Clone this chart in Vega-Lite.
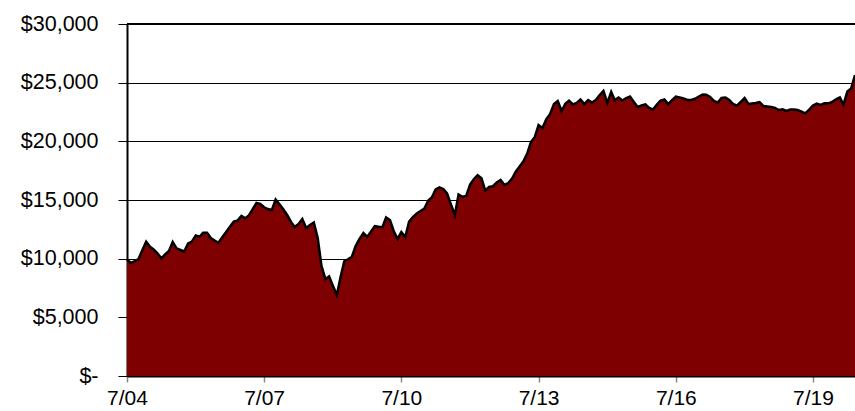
{
  "$schema": "https://vega.github.io/schema/vega-lite/v6.json",
  "width": 728,
  "height": 352,
  "autosize": {"type": "none"},
  "padding": {"left": 127, "top": 24, "right": 0, "bottom": 35},
  "background": "white",
  "config": {"view": {"stroke": null}, "font": "Liberation Sans"},
  "data": {"values": [
    {"date": "2004-07-01", "value": 9930}, {"date": "2004-08-01", "value": 9630}, {"date": "2004-09-01", "value": 9800},
    {"date": "2004-10-01", "value": 9970}, {"date": "2004-11-01", "value": 10740}, {"date": "2004-12-01", "value": 11450},
    {"date": "2005-01-01", "value": 11010}, {"date": "2005-02-01", "value": 10760}, {"date": "2005-03-01", "value": 10460},
    {"date": "2005-04-01", "value": 10030}, {"date": "2005-05-01", "value": 10360}, {"date": "2005-06-01", "value": 10650},
    {"date": "2005-07-01", "value": 11420}, {"date": "2005-08-01", "value": 10880}, {"date": "2005-09-01", "value": 10740},
    {"date": "2005-10-01", "value": 10610}, {"date": "2005-11-01", "value": 11290}, {"date": "2005-12-01", "value": 11450},
    {"date": "2006-01-01", "value": 11980}, {"date": "2006-02-01", "value": 11870}, {"date": "2006-03-01", "value": 12210},
    {"date": "2006-04-01", "value": 12210}, {"date": "2006-05-01", "value": 11760}, {"date": "2006-06-01", "value": 11550},
    {"date": "2006-07-01", "value": 11360}, {"date": "2006-08-01", "value": 11830}, {"date": "2006-09-01", "value": 12280},
    {"date": "2006-10-01", "value": 12730}, {"date": "2006-11-01", "value": 13160}, {"date": "2006-12-01", "value": 13250},
    {"date": "2007-01-01", "value": 13650}, {"date": "2007-02-01", "value": 13440}, {"date": "2007-03-01", "value": 13680},
    {"date": "2007-04-01", "value": 14230}, {"date": "2007-05-01", "value": 14740}, {"date": "2007-06-01", "value": 14660},
    {"date": "2007-07-01", "value": 14380}, {"date": "2007-08-01", "value": 14230}, {"date": "2007-09-01", "value": 14150},
    {"date": "2007-10-01", "value": 15040}, {"date": "2007-11-01", "value": 14630}, {"date": "2007-12-01", "value": 14210},
    {"date": "2008-01-01", "value": 13720}, {"date": "2008-02-01", "value": 13130}, {"date": "2008-03-01", "value": 12700},
    {"date": "2008-04-01", "value": 12960}, {"date": "2008-05-01", "value": 13380}, {"date": "2008-06-01", "value": 12610},
    {"date": "2008-07-01", "value": 12870}, {"date": "2008-08-01", "value": 13080}, {"date": "2008-09-01", "value": 11760},
    {"date": "2008-10-01", "value": 9380}, {"date": "2008-11-01", "value": 8270}, {"date": "2008-12-01", "value": 8480},
    {"date": "2009-01-01", "value": 7670}, {"date": "2009-02-01", "value": 6900}, {"date": "2009-03-01", "value": 8350},
    {"date": "2009-04-01", "value": 9780}, {"date": "2009-05-01", "value": 9950}, {"date": "2009-06-01", "value": 10170},
    {"date": "2009-07-01", "value": 11080}, {"date": "2009-08-01", "value": 11680}, {"date": "2009-09-01", "value": 12190},
    {"date": "2009-10-01", "value": 11850}, {"date": "2009-11-01", "value": 12320}, {"date": "2009-12-01", "value": 12780},
    {"date": "2010-01-01", "value": 12730}, {"date": "2010-02-01", "value": 12700}, {"date": "2010-03-01", "value": 13510},
    {"date": "2010-04-01", "value": 13300}, {"date": "2010-05-01", "value": 12360}, {"date": "2010-06-01", "value": 11680},
    {"date": "2010-07-01", "value": 12270}, {"date": "2010-08-01", "value": 11850}, {"date": "2010-09-01", "value": 13170},
    {"date": "2010-10-01", "value": 13550}, {"date": "2010-11-01", "value": 13850}, {"date": "2010-12-01", "value": 14060},
    {"date": "2011-01-01", "value": 14280}, {"date": "2011-02-01", "value": 14960}, {"date": "2011-03-01", "value": 15210},
    {"date": "2011-04-01", "value": 15910}, {"date": "2011-05-01", "value": 16080}, {"date": "2011-06-01", "value": 15940},
    {"date": "2011-07-01", "value": 15570}, {"date": "2011-08-01", "value": 14620}, {"date": "2011-09-01", "value": 13720},
    {"date": "2011-10-01", "value": 15470}, {"date": "2011-11-01", "value": 15280}, {"date": "2011-12-01", "value": 15340},
    {"date": "2012-01-01", "value": 16320}, {"date": "2012-02-01", "value": 16790}, {"date": "2012-03-01", "value": 17110},
    {"date": "2012-04-01", "value": 16850}, {"date": "2012-05-01", "value": 15810}, {"date": "2012-06-01", "value": 16110},
    {"date": "2012-07-01", "value": 16170}, {"date": "2012-08-01", "value": 16490}, {"date": "2012-09-01", "value": 16710},
    {"date": "2012-10-01", "value": 16280}, {"date": "2012-11-01", "value": 16450}, {"date": "2012-12-01", "value": 16830},
    {"date": "2013-01-01", "value": 17430}, {"date": "2013-02-01", "value": 17870}, {"date": "2013-03-01", "value": 18280},
    {"date": "2013-04-01", "value": 18960}, {"date": "2013-05-01", "value": 19940}, {"date": "2013-06-01", "value": 20370},
    {"date": "2013-07-01", "value": 21390}, {"date": "2013-08-01", "value": 21140}, {"date": "2013-09-01", "value": 21900},
    {"date": "2013-10-01", "value": 22330}, {"date": "2013-11-01", "value": 23180}, {"date": "2013-12-01", "value": 23440},
    {"date": "2014-01-01", "value": 22590}, {"date": "2014-02-01", "value": 23220}, {"date": "2014-03-01", "value": 23460},
    {"date": "2014-04-01", "value": 23140}, {"date": "2014-05-01", "value": 23270}, {"date": "2014-06-01", "value": 23570},
    {"date": "2014-07-01", "value": 23180}, {"date": "2014-08-01", "value": 23520}, {"date": "2014-09-01", "value": 23310},
    {"date": "2014-10-01", "value": 23520}, {"date": "2014-11-01", "value": 23950}, {"date": "2014-12-01", "value": 24290},
    {"date": "2015-01-01", "value": 23270}, {"date": "2015-02-01", "value": 24210}, {"date": "2015-03-01", "value": 23520},
    {"date": "2015-04-01", "value": 23740}, {"date": "2015-05-01", "value": 23480}, {"date": "2015-06-01", "value": 23690},
    {"date": "2015-07-01", "value": 23820}, {"date": "2015-08-01", "value": 23350}, {"date": "2015-09-01", "value": 22930},
    {"date": "2015-10-01", "value": 23050}, {"date": "2015-11-01", "value": 23140}, {"date": "2015-12-01", "value": 22840},
    {"date": "2016-01-01", "value": 22710}, {"date": "2016-02-01", "value": 23140}, {"date": "2016-03-01", "value": 23480},
    {"date": "2016-04-01", "value": 23570}, {"date": "2016-05-01", "value": 23180}, {"date": "2016-06-01", "value": 23520},
    {"date": "2016-07-01", "value": 23820}, {"date": "2016-08-01", "value": 23740}, {"date": "2016-09-01", "value": 23650},
    {"date": "2016-10-01", "value": 23520}, {"date": "2016-11-01", "value": 23520}, {"date": "2016-12-01", "value": 23630},
    {"date": "2017-01-01", "value": 23820}, {"date": "2017-02-01", "value": 23990}, {"date": "2017-03-01", "value": 23970},
    {"date": "2017-04-01", "value": 23780}, {"date": "2017-05-01", "value": 23440}, {"date": "2017-06-01", "value": 23310},
    {"date": "2017-07-01", "value": 23690}, {"date": "2017-08-01", "value": 23740}, {"date": "2017-09-01", "value": 23520},
    {"date": "2017-10-01", "value": 23180}, {"date": "2017-11-01", "value": 23050}, {"date": "2017-12-01", "value": 23350},
    {"date": "2018-01-01", "value": 23690}, {"date": "2018-02-01", "value": 23180}, {"date": "2018-03-01", "value": 23220},
    {"date": "2018-04-01", "value": 23270}, {"date": "2018-05-01", "value": 23350}, {"date": "2018-06-01", "value": 23010},
    {"date": "2018-07-01", "value": 22970}, {"date": "2018-08-01", "value": 22930}, {"date": "2018-09-01", "value": 22840},
    {"date": "2018-10-01", "value": 22670}, {"date": "2018-11-01", "value": 22730}, {"date": "2018-12-01", "value": 22590},
    {"date": "2019-01-01", "value": 22710}, {"date": "2019-02-01", "value": 22710}, {"date": "2019-03-01", "value": 22670},
    {"date": "2019-04-01", "value": 22540}, {"date": "2019-05-01", "value": 22390}, {"date": "2019-06-01", "value": 22710},
    {"date": "2019-07-01", "value": 23050}, {"date": "2019-08-01", "value": 23220}, {"date": "2019-09-01", "value": 23100},
    {"date": "2019-10-01", "value": 23240}, {"date": "2019-11-01", "value": 23240}, {"date": "2019-12-01", "value": 23350},
    {"date": "2020-01-01", "value": 23570}, {"date": "2020-02-01", "value": 23740}, {"date": "2020-03-01", "value": 23140},
    {"date": "2020-04-01", "value": 24250}, {"date": "2020-05-01", "value": 24500}, {"date": "2020-06-01", "value": 25650}
  ]},
  "encoding": {
    "x": {
      "field": "date", "type": "temporal",
      "scale": {"domain": ["2004-07-01", "2020-06-01"]},
      "axis": {
        "title": null, "grid": false,
        "values": [
          {"year": 2004, "month": 7, "date": 1}, {"year": 2007, "month": 7, "date": 1},
          {"year": 2010, "month": 7, "date": 1}, {"year": 2013, "month": 7, "date": 1},
          {"year": 2016, "month": 7, "date": 1}, {"year": 2019, "month": 7, "date": 1}
        ],
        "format": "%-m/%y",
        "labelFont": "Liberation Sans", "labelFontSize": 21, "labelColor": "black",
        "labelPadding": 5, "labelFlush": false, "labelOverlap": false,
        "domainColor": "black", "domainWidth": 2,
        "tickColor": "#888888", "tickSize": 6, "tickWidth": 1.5
      }
    },
    "y": {
      "field": "value", "type": "quantitative",
      "scale": {"domain": [0, 30000], "nice": false},
      "axis": {
        "title": null,
        "values": [0, 5000, 10000, 15000, 20000, 25000, 30000],
        "labelExpr": "datum.value == 0 ? '$-' : '$' + format(datum.value, ',')",
        "labelFont": "Liberation Sans", "labelFontSize": 21.5, "labelColor": "black",
        "labelPadding": 20,
        "grid": true, "gridColor": "black", "gridWidth": 1,
        "domainColor": "black", "domainWidth": 2,
        "tickColor": "black", "tickSize": 9, "tickWidth": 1
      }
    }
  },
  "layer": [
    {"mark": {"type": "area", "color": "#7f0000"}},
    {"mark": {"type": "line", "color": "black", "strokeWidth": 2.5}},
    {
      "mark": {"type": "rule", "color": "black", "strokeWidth": 2},
      "encoding": {"y": {"datum": 30000}, "x": null}
    }
  ]
}
